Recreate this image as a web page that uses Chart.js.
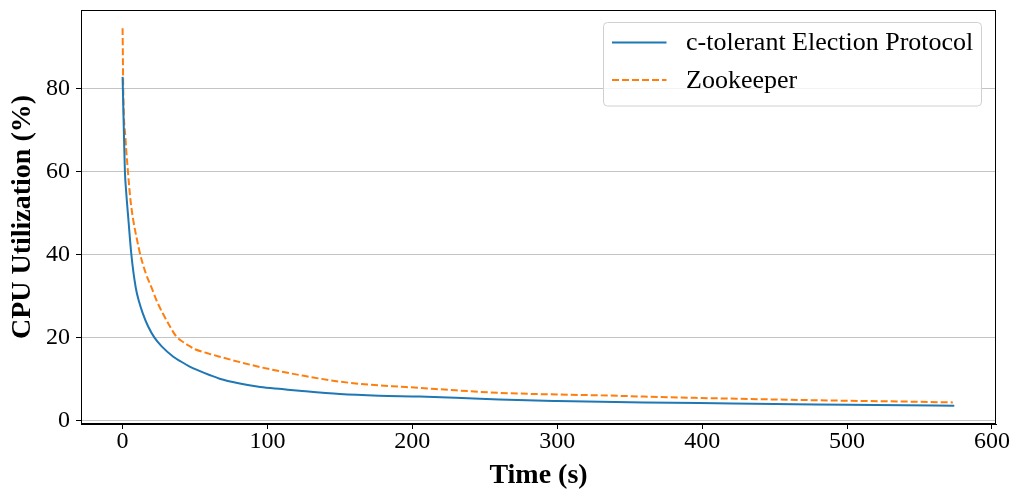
<!DOCTYPE html>
<html>
<head>
<meta charset="utf-8">
<title>CPU Utilization over Time</title>
<script src="https://cdn.jsdelivr.net/npm/chart.js@4/dist/chart.umd.min.js"></script>
<style>
  html, body { margin: 0; padding: 0; background: #ffffff; }
  #wrap { width: 1014px; height: 493px; }
</style>
</head>
<body>
<div id="wrap"><canvas id="chart" width="1014" height="493"></canvas></div>
<script>
// Sample times (s) and CPU utilization (%) for each protocol
const electionTime = [0, 1, 1.6, 2.5, 4, 6, 9, 11.5, 14, 17.5, 22, 27, 35, 40, 46, 53, 60, 67, 80, 95, 110, 122, 150, 177, 205, 230, 260, 300, 330, 360, 398, 450, 500, 540, 574];
const electionCpu  = [82.8, 68, 60, 55, 48.5, 40.2, 32.2, 28.5, 25.8, 22.8, 20, 17.9, 15.4, 14.3, 13.1, 12.0, 11.0, 10.1, 9.0, 8.1, 7.6, 7.2, 6.4, 6.0, 5.8, 5.5, 5.1, 4.75, 4.55, 4.4, 4.25, 4.0, 3.85, 3.7, 3.6];

const zookeeperTime = [0, 0.5, 2, 3.7, 5.5, 7.5, 10, 12.2, 16, 19.8, 24, 27.8, 33, 37, 42, 46, 50, 58, 67, 81, 95, 110, 122, 150, 177, 191, 205, 230, 260, 300, 330, 360, 395, 450, 500, 540, 573];
const zookeeperCpu  = [94.5, 79, 68, 60, 53, 48, 43.5, 40, 35.5, 32.2, 28.5, 25.8, 22.5, 20.3, 18.9, 18.0, 17.2, 16.3, 15.4, 14.1, 12.9, 11.8, 11.0, 9.4, 8.5, 8.2, 7.9, 7.3, 6.7, 6.3, 6.1, 5.8, 5.5, 5.1, 4.8, 4.6, 4.4];

const seriesNames = ['c-tolerant Election Protocol', 'Zookeeper'];
const xTicks = [0, 100, 200, 300, 400, 500, 600];
const yTicks = [0, 20, 40, 60, 80];

const toPoints = (xs, ys) => xs.map((x, i) => ({ x: x, y: ys[i] }));

const SERIF = "'Liberation Serif', 'Times New Roman', serif";
const BLUE = '#1f77b4';
const ORANGE = '#ff7f0e';

// Full box around the plot area plus a framed legend in the upper right
const framePlugin = {
  id: 'frameAndLegend',
  afterDraw(chart) {
    const ctx = chart.ctx;
    const a = chart.chartArea;
    ctx.save();
    ctx.strokeStyle = '#000000';
    ctx.lineWidth = 1;
    ctx.strokeRect(Math.round(a.left) + 0.5, Math.round(a.top) + 0.5,
                   Math.round(a.right - a.left) - 1, Math.round(a.bottom - a.top) - 1);

    // legend box
    const bx = a.right - 392.5, by = a.top + 12.5, bw = 378, bh = 83.5, r = 4;
    ctx.beginPath();
    ctx.moveTo(bx + r, by);
    ctx.lineTo(bx + bw - r, by);
    ctx.quadraticCurveTo(bx + bw, by, bx + bw, by + r);
    ctx.lineTo(bx + bw, by + bh - r);
    ctx.quadraticCurveTo(bx + bw, by + bh, bx + bw - r, by + bh);
    ctx.lineTo(bx + r, by + bh);
    ctx.quadraticCurveTo(bx, by + bh, bx, by + bh - r);
    ctx.lineTo(bx, by + r);
    ctx.quadraticCurveTo(bx, by, bx + r, by);
    ctx.closePath();
    ctx.fillStyle = 'rgba(255,255,255,0.8)';
    ctx.fill();
    ctx.strokeStyle = '#d0d0d0';
    ctx.stroke();

    ctx.font = '26px ' + SERIF;
    ctx.textBaseline = 'middle';
    ctx.textAlign = 'left';
    chart.data.datasets.forEach((ds, i) => {
      const y = by + 20 + i * 37.5;
      ctx.beginPath();
      ctx.setLineDash(ds.borderDash || []);
      ctx.strokeStyle = ds.borderColor;
      ctx.lineWidth = ds.borderWidth;
      ctx.moveTo(bx + 8.5, y);
      ctx.lineTo(bx + 63, y);
      ctx.stroke();
      ctx.setLineDash([]);
      ctx.fillStyle = '#000000';
      ctx.fillText(ds.label, bx + 82.5, y + 1);
    });
    ctx.restore();
  }
};

new Chart(document.getElementById('chart'), {
  type: 'line',
  data: {
    datasets: [
      {
        label: seriesNames[0],
        data: toPoints(electionTime, electionCpu),
        borderColor: BLUE,
        backgroundColor: BLUE,
        borderWidth: 2,
        pointRadius: 0,
        cubicInterpolationMode: 'monotone',
        fill: false
      },
      {
        label: seriesNames[1],
        data: toPoints(zookeeperTime, zookeeperCpu),
        borderColor: ORANGE,
        backgroundColor: ORANGE,
        borderWidth: 2,
        borderDash: [7, 3],
        pointRadius: 0,
        cubicInterpolationMode: 'monotone',
        fill: false
      }
    ]
  },
  options: {
    responsive: false,
    animation: false,
    events: [],
    layout: { padding: { left: 0, top: 10, right: 18, bottom: 0 } },
    plugins: {
      legend: { display: false },
      tooltip: { enabled: false }
    },
    scales: {
      x: {
        type: 'linear',
        min: -28.7,
        max: 602.8,
        afterBuildTicks(scale) { scale.ticks = xTicks.map(v => ({ value: v })); },
        afterFit(scale) { scale.height = 69; scale.paddingLeft = 0; scale.paddingRight = 0; },
        border: { display: true, color: '#000000', width: 1 },
        grid: { drawOnChartArea: false, drawTicks: true, tickLength: 5, tickColor: '#000000', tickWidth: 1 },
        ticks: {
          color: '#000000',
          font: { family: SERIF, size: 24, lineHeight: 1 },
          padding: 1,
          maxRotation: 0,
          autoSkip: false
        },
        title: {
          display: true,
          text: 'Time (s)',
          color: '#000000',
          font: { family: SERIF, size: 28, weight: 'bold', lineHeight: 1.2 },
          padding: { top: 0, bottom: 0 }
        }
      },
      y: {
        type: 'linear',
        min: -0.8,
        max: 98.9,
        afterBuildTicks(scale) { scale.ticks = yTicks.map(v => ({ value: v })); },
        afterFit(scale) { scale.width = 81; scale.paddingTop = 0; scale.paddingBottom = 0; },
        border: { display: true, color: '#000000', width: 1 },
        grid: { drawOnChartArea: true, color: '#c4c4c4', lineWidth: 1, drawTicks: true, tickLength: 5, tickColor: '#000000', tickWidth: 1 },
        ticks: {
          color: '#000000',
          font: { family: SERIF, size: 24 },
          padding: 6,
          autoSkip: false
        },
        title: {
          display: true,
          text: 'CPU Utilization (%)',
          color: '#000000',
          font: { family: SERIF, size: 28, weight: 'bold', lineHeight: 1.2 },
          padding: { top: 6, bottom: 0 }
        }
      }
    }
  },
  plugins: [framePlugin]
});
</script>
</body>
</html>
